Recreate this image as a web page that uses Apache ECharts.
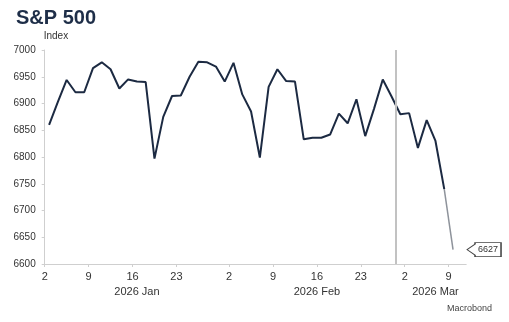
<!DOCTYPE html>
<html>
<head>
<meta charset="utf-8">
<script src="https://cdn.jsdelivr.net/npm/echarts@6/dist/echarts.min.js"></script>
<style>
html,body{margin:0;padding:0;background:#fff;}
#chart{width:509px;height:322px;}
</style>
</head>
<body>
<div id="chart"></div>
<script>
// Weekday calendar (x positions by weekday index)
const dates = [
  '2026-01-02',
  '2026-01-05','2026-01-06','2026-01-07','2026-01-08','2026-01-09',
  '2026-01-12','2026-01-13','2026-01-14','2026-01-15','2026-01-16',
  '2026-01-19','2026-01-20','2026-01-21','2026-01-22','2026-01-23',
  '2026-01-26','2026-01-27','2026-01-28','2026-01-29','2026-01-30',
  '2026-02-02','2026-02-03','2026-02-04','2026-02-05','2026-02-06',
  '2026-02-09','2026-02-10','2026-02-11','2026-02-12','2026-02-13',
  '2026-02-16','2026-02-17','2026-02-18','2026-02-19','2026-02-20',
  '2026-02-23','2026-02-24','2026-02-25','2026-02-26','2026-02-27',
  '2026-03-02','2026-03-03','2026-03-04','2026-03-05','2026-03-06',
  '2026-03-09','2026-03-10'
];
// S&P 500 index values (one per weekday, last is latest value)
const values = [
  6860,
  6903,6944,6921,6921,6966,
  6977,6964,6928,6945,6941,
  6940,6797,6875,6914,6915,
  6950,6978,6977,6969,6941,
  6976,6917,6885,6799,6931,
  6964,6942,6941,6833,6836,
  6836,6842,6881,6863,6908,
  6839,6890,6945,6913,6880,
  6882,6817,6869,6830,6740,
  6627
];
const dayTickDates = ['2026-01-02','2026-01-09','2026-01-16','2026-01-23','2026-02-02','2026-02-09','2026-02-16','2026-02-23','2026-03-02','2026-03-09'];
const monthLabels = ['2026 Jan','2026 Feb','2026 Mar'];
const monthStarts = ['2026-01-02','2026-02-02','2026-03-02'];
const yTicks = [6600,6650,6700,6750,6800,6850,6900,6950,7000];
const markerDate = '2026-02-27';

const N = dates.length;            // axis spans all weekdays
const lastIdx = values.length - 1;
const navy = '#1c2a42';
const font = 'Liberation Sans, Arial, sans-serif';

const mainData = values.slice(0, lastIdx).map((v, i) => [i + 0.5, v]);
const latestData = [[lastIdx - 0.5, values[lastIdx - 1]], [lastIdx + 0.5, values[lastIdx]]];

const dayTickIdx = dayTickDates.map(d => dates.indexOf(d));
const monthStartIdx = monthStarts.map(d => dates.indexOf(d));
const monthCenters = monthStartIdx.map((s, k) => (s + (k + 1 < monthStartIdx.length ? monthStartIdx[k + 1] : N)) / 2);
const dayOf = idx => String(parseInt(dates[idx].slice(8), 10));

const chart = echarts.init(document.getElementById('chart'), null, {renderer: 'canvas'});
chart.setOption({
  animation: false,
  backgroundColor: '#ffffff',
  textStyle: {fontFamily: font},
  title: [
    {text: 'S&P 500', left: 11, top: 3,
     textStyle: {fontSize: 20, fontWeight: 'bold', color: '#1e2e48', fontFamily: font}},
    {text: 'Macrobond', right: 12, bottom: 4,
     textStyle: {fontSize: 9, fontWeight: 'normal', color: '#444', fontFamily: font}}
  ],
  grid: {left: 44.7, right: 42.8, top: 50, bottom: 58, containLabel: false},
  xAxis: [
    {
      type: 'value', min: 0, max: N,
      axisLine: {show: true, lineStyle: {color: '#cfcfcf', width: 1}},
      axisTick: {show: true, length: 3, lineStyle: {color: '#cfcfcf'}, customValues: dayTickIdx},
      axisLabel: {show: true, customValues: dayTickIdx, margin: 7, fontSize: 11, color: '#333',
                  formatter: v => dayOf(Math.round(v))},
      splitLine: {show: false}
    },
    {
      type: 'value', min: 0, max: N, position: 'bottom', offset: 15,
      axisLine: {show: false}, axisTick: {show: false},
      axisLabel: {show: true, customValues: monthCenters, margin: 7, fontSize: 11, color: '#333',
                  formatter: v => monthLabels[monthCenters.indexOf(v)] || ''},
      splitLine: {show: false}
    }
  ],
  yAxis: {
    type: 'value', min: yTicks[0], max: yTicks[yTicks.length - 1], interval: 50,
    name: 'Index', nameLocation: 'end', nameGap: 9,
    nameTextStyle: {fontSize: 10, color: '#333', align: 'left', padding: [0, 0, 0, -1]},
    axisLine: {show: true, lineStyle: {color: '#cfcfcf', width: 1}},
    axisTick: {show: true, length: 3, lineStyle: {color: '#cfcfcf'}},
    axisLabel: {fontSize: 10, color: '#333', margin: 9, formatter: v => String(v)},
    splitLine: {show: false}
  },
  series: [
    {
      type: 'line', xAxisIndex: 0, data: mainData, showSymbol: false, symbol: 'none',
      lineStyle: {color: navy, width: 2}, z: 3,
      markLine: {
        silent: true, symbol: 'none', label: {show: false},
        lineStyle: {color: '#c2c2c2', width: 2, type: 'solid', opacity: 1},
        emphasis: {disabled: true},
        data: [{xAxis: dates.indexOf(markerDate)}]
      }
    },
    {
      type: 'line', xAxisIndex: 0, data: latestData, showSymbol: false, symbol: 'none',
      lineStyle: {color: '#8e939b', width: 1.5}, z: 3,
      markPoint: {
        silent: true,
        symbol: 'path://M0,7 L8,1.5 L8,0 L34,0 L34,14 L8,14 L8,12.5 Z',
        symbolSize: [34, 14], symbolKeepAspect: false, symbolOffset: [31, 0],
        itemStyle: {color: '#ffffff', borderColor: '#444', borderWidth: 1},
        label: {show: true, position: 'inside', offset: [4, 0], fontSize: 9, color: '#333',
                formatter: p => String(p.value)},
        data: [{coord: [lastIdx + 0.5, values[lastIdx]], value: values[lastIdx]}]
      }
    }
  ]
});
</script>
</body>
</html>
